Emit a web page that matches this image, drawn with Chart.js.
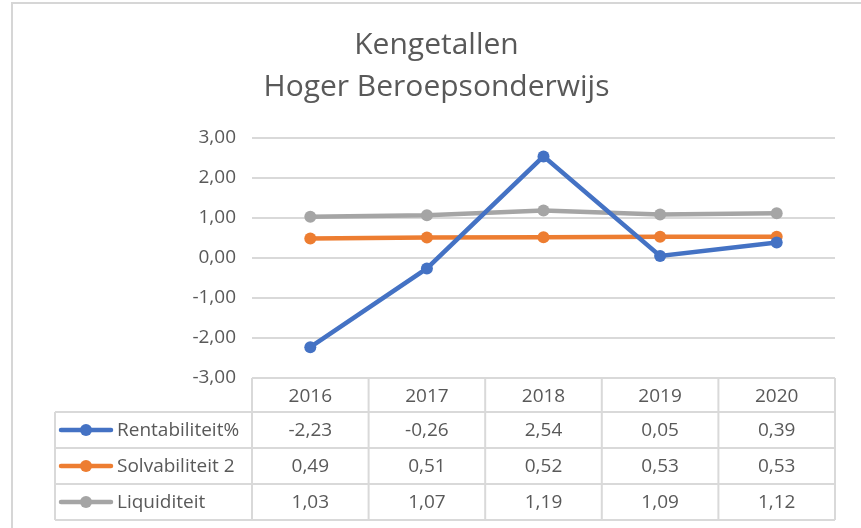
<!DOCTYPE html>
<html lang="nl">
<head>
    <meta charset="UTF-8">
    <title>Kengetallen Hoger Beroepsonderwijs</title>
    <script src="https://cdn.jsdelivr.net/npm/chart.js@4/dist/chart.umd.min.js"></script>
    <style>
        body { margin: 0; background: #fff; overflow: hidden; }
        #kader { position: absolute; left: 11px; top: 2px; width: 900px; height: 600px;
                 border-left: 2px solid #d6d6d6; border-top: 2px solid #d6d6d6; }
        #wrap { position: absolute; left: 0; top: 0; width: 861px; height: 528px; }
    </style>
</head>
<body>
    <div id="kader"></div>
    <div id="wrap"><canvas id="grafiek"></canvas></div>
    <script>
        // gegevens uit de tabel
        const jaren = ['2016', '2017', '2018', '2019', '2020'];
        const reeksNamen = ['Rentabiliteit%', 'Solvabiliteit 2', 'Liquiditeit'];
        const rentabiliteit = [-2.23, -0.26, 2.54, 0.05, 0.39];
        const solvabiliteit = [0.49, 0.51, 0.52, 0.53, 0.53];
        const liquiditeit = [1.03, 1.07, 1.19, 1.09, 1.12];
        const kleuren = ['#4472C4', '#ED7D31', '#A5A5A5'];

        const tekstKleur = '#595959';
        const lijnKleur = '#d9d9d9';
        const lettertype = '"Open Sans", Lato, sans-serif';

        function komma(v, d) {
            return v.toFixed(d).replace('.', ',');
        }

        // datatabel onder de grafiek (zoals in Excel)
        const dataTabel = {
            id: 'dataTabel',
            afterDraw(chart) {
                const ctx = chart.ctx;
                const area = chart.chartArea;
                const x = chart.scales.x;
                const kolom = (area.right - area.left) / jaren.length;
                const tabelLinks = 55;
                const kopHoogte = 34, rijHoogte = 36;
                const top = area.bottom;
                const rijTop = top + kopHoogte;
                const onder = rijTop + rijHoogte * reeksNamen.length;
                const reeksen = [rentabiliteit, solvabiliteit, liquiditeit];

                ctx.save();
                ctx.strokeStyle = lijnKleur;
                ctx.lineWidth = 2;
                ctx.beginPath();
                for (let i = 0; i <= jaren.length; i++) {
                    const xx = area.left + i * kolom;
                    ctx.moveTo(xx, top); ctx.lineTo(xx, onder);
                }
                ctx.moveTo(area.left, top); ctx.lineTo(area.right, top);
                for (let r = 0; r <= reeksNamen.length; r++) {
                    const yy = rijTop + r * rijHoogte;
                    ctx.moveTo(tabelLinks, yy); ctx.lineTo(area.right, yy);
                }
                ctx.moveTo(tabelLinks, rijTop); ctx.lineTo(tabelLinks, onder);
                ctx.stroke();

                ctx.fillStyle = tekstKleur;
                ctx.font = '19px ' + lettertype;
                ctx.textBaseline = 'middle';
                ctx.textAlign = 'center';
                jaren.forEach((j, i) => ctx.fillText(j, x.getPixelForValue(i), top + kopHoogte / 2 + 2));

                reeksNamen.forEach((naam, r) => {
                    const yy = rijTop + r * rijHoogte + rijHoogte / 2;
                    // legendasleutel
                    ctx.strokeStyle = kleuren[r];
                    ctx.lineWidth = 4.5;
                    ctx.lineCap = 'round';
                    ctx.beginPath();
                    ctx.moveTo(61, yy); ctx.lineTo(111, yy);
                    ctx.stroke();
                    ctx.fillStyle = kleuren[r];
                    ctx.beginPath();
                    ctx.arc(86, yy, 6, 0, Math.PI * 2);
                    ctx.fill();

                    ctx.fillStyle = tekstKleur;
                    ctx.textAlign = 'left';
                    ctx.fillText(naam, 117, yy + 1);
                    ctx.textAlign = 'center';
                    reeksen[r].forEach((v, i) => ctx.fillText(komma(v, 2), x.getPixelForValue(i), yy + 1));
                });
                ctx.restore();
            }
        };

        function reeks(naam, data, kleur) {
            return {
                label: naam,
                data: data,
                borderColor: kleur,
                backgroundColor: kleur,
                borderWidth: 4.5,
                pointRadius: 6,
                pointBorderWidth: 0,
                pointBackgroundColor: kleur,
                borderCapStyle: 'round',
                tension: 0
            };
        }

        new Chart(document.getElementById('grafiek'), {
            type: 'line',
            data: {
                labels: jaren,
                datasets: [
                    reeks(reeksNamen[0], rentabiliteit, kleuren[0]),
                    reeks(reeksNamen[1], solvabiliteit, kleuren[1]),
                    reeks(reeksNamen[2], liquiditeit, kleuren[2])
                ]
            },
            options: {
                responsive: true,
                maintainAspectRatio: false,
                animation: false,
                layout: { padding: { left: 12, right: 0, top: 0, bottom: 150 } },
                plugins: {
                    legend: { display: false },
                    tooltip: { enabled: false },
                    title: {
                        display: true,
                        text: ['Kengetallen', 'Hoger Beroepsonderwijs'],
                        color: tekstKleur,
                        font: { family: lettertype, size: 30, weight: 'normal', lineHeight: 1.4 },
                        padding: { top: 24, bottom: 30 }
                    }
                },
                scales: {
                    x: {
                        display: false,
                        offset: true
                    },
                    y: {
                        min: -3,
                        max: 3,
                        ticks: {
                            stepSize: 1,
                            color: tekstKleur,
                            font: { family: lettertype, size: 19 },
                            padding: 16,
                            callback: v => komma(v, 2)
                        },
                        grid: { color: lijnKleur, lineWidth: 2, drawTicks: false },
                        border: { display: false },
                        afterFit: s => { s.width = 240; }
                    },
                    rechts: {
                        position: 'right',
                        display: true,
                        grid: { display: false },
                        border: { display: false },
                        ticks: { display: false },
                        afterFit: s => { s.width = 26; }
                    }
                }
            },
            plugins: [dataTabel]
        });
    </script>
</body>
</html>
